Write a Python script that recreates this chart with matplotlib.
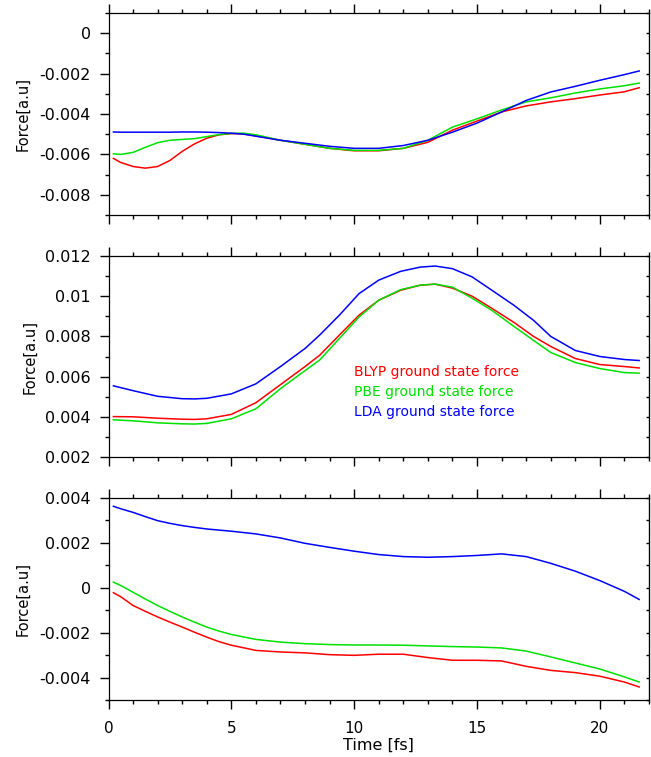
import numpy as np
import matplotlib.pyplot as plt
from matplotlib.ticker import MultipleLocator, FuncFormatter

plt.rcParams['font.family'] = ['DejaVu Sans']

# Ground state force on the atom, three functionals

# x component
time_x = [0.2, 0.5, 1, 1.5, 2, 2.5, 3, 3.5, 4, 4.5, 5, 5.5, 6, 7, 8, 9, 10, 11, 12,
          13, 14, 15, 16, 17, 18, 19, 20, 21, 21.6]
fx_blyp = [-0.0062, -0.0064, -0.0066, -0.00668, -0.0066, -0.0063, -0.00585, -0.00548,
           -0.0052, -0.00503, -0.00497, -0.00498, -0.00508, -0.0053, -0.0055, -0.0057,
           -0.00582, -0.00582, -0.0057, -0.0054, -0.0048, -0.00435, -0.0039, -0.0036,
           -0.0034, -0.00324, -0.00306, -0.0029, -0.0027]
fx_pbe = [-0.00597, -0.006, -0.0059, -0.00565, -0.00542, -0.0053, -0.00526, -0.00522,
          -0.00512, -0.00502, -0.00496, -0.00495, -0.00503, -0.0053, -0.0055, -0.0057,
          -0.0058, -0.0058, -0.0057, -0.0053, -0.00465, -0.00424, -0.0038, -0.0034,
          -0.0032, -0.00296, -0.00276, -0.0026, -0.00247]
fx_lda = [-0.00489, -0.0049, -0.0049, -0.0049, -0.0049, -0.0049, -0.00489, -0.00489,
          -0.0049, -0.00492, -0.00495, -0.005, -0.0051, -0.0053, -0.00545, -0.0056,
          -0.0057, -0.0057, -0.00556, -0.0053, -0.0049, -0.00445, -0.0039, -0.00333,
          -0.00291, -0.00263, -0.00233, -0.00205, -0.00187]

# y component
time_y = [0.2, 1, 2, 3, 3.5, 4, 5, 6, 7, 8, 8.6, 9.4, 10.2, 11, 11.9, 12.7, 13.3,
          14, 14.8, 15.6, 16.5, 17.3, 18, 19, 20, 21, 21.6]
fy_blyp = [0.00401, 0.004, 0.00393, 0.00388, 0.00387, 0.0039, 0.00412, 0.0047, 0.0056,
           0.0065, 0.00707, 0.00807, 0.00906, 0.0098, 0.0103, 0.01055, 0.0106,
           0.0104, 0.0100, 0.0094, 0.0087, 0.0080, 0.0075, 0.0069, 0.0066, 0.0065, 0.00643]
fy_pbe = [0.00385, 0.0038, 0.0037, 0.00365, 0.00364, 0.00367, 0.0039, 0.0044, 0.0054,
          0.0063, 0.00683, 0.0079, 0.00897, 0.0098, 0.01033, 0.01055, 0.0106,
          0.01045, 0.0099, 0.0093, 0.0085, 0.0078, 0.0072, 0.0067, 0.0064, 0.0062, 0.00617]
fy_lda = [0.00554, 0.0053, 0.00502, 0.0049, 0.00489, 0.00492, 0.00514, 0.00564, 0.0065,
          0.0074, 0.00807, 0.00906, 0.01013, 0.0108, 0.01124, 0.01145, 0.0115,
          0.01137, 0.01096, 0.0103, 0.00955, 0.0088, 0.0080, 0.0073, 0.0070, 0.00685, 0.0068]

# z component
time_z = [0.2, 0.5, 1, 1.5, 2, 2.5, 3, 3.5, 4, 4.5, 5, 6, 7, 8, 9, 10, 11, 12,
          13, 14, 15, 16, 17, 18, 19, 20, 21, 21.6]
fz_blyp = [-0.00022, -0.0004, -0.00079, -0.00105, -0.0013, -0.00153, -0.00175, -0.00198,
           -0.0022, -0.0024, -0.00256, -0.00279, -0.00286, -0.0029, -0.00298, -0.00301,
           -0.00296, -0.00296, -0.00311, -0.00323, -0.00323, -0.00326, -0.0035, -0.00368,
           -0.00378, -0.00394, -0.0042, -0.00442]
fz_pbe = [0.00025, 0.0001, -0.0002, -0.0005, -0.00079, -0.00105, -0.0013, -0.00153,
          -0.00175, -0.00193, -0.00208, -0.0023, -0.00242, -0.00249, -0.00253, -0.00255,
          -0.00255, -0.00256, -0.00259, -0.00262, -0.00264, -0.00268, -0.00282, -0.00308,
          -0.00335, -0.00362, -0.00397, -0.0042]
fz_lda = [0.00363, 0.00352, 0.00336, 0.00317, 0.00299, 0.00287, 0.00277, 0.00269,
          0.00262, 0.00257, 0.00252, 0.0024, 0.00222, 0.00198, 0.0018, 0.00163,
          0.00148, 0.00139, 0.00136, 0.00139, 0.00144, 0.00151, 0.00139, 0.00109,
          0.00074, 0.00032, -0.00016, -0.00052]

labels = ['BLYP ground state force', 'PBE ground state force', 'LDA ground state force']
colors = ['#ff0000', '#00e000', '#0000ff']

panels = [
    (time_x, (fx_blyp, fx_pbe, fx_lda), (-0.009, 0.001)),
    (time_y, (fy_blyp, fy_pbe, fy_lda), (0.002, 0.012)),
    (time_z, (fz_blyp, fz_pbe, fz_lda), (-0.005, 0.004)),
]


def fmt(v, pos):
    if abs(v) < 1e-12:
        return '0'
    return '%g' % round(v, 6)


fig = plt.figure(figsize=(6.51, 7.57), dpi=100)
W, H = 651, 757
left, right = 108.5, 649
tops = [13, 256, 498]
bottoms = [215, 457, 700]

axes = []
for i, ((t, series, ylim), top, bot) in enumerate(zip(panels, tops, bottoms)):
    ax = fig.add_axes([left / W, 1 - bot / H, (right - left) / W, (bot - top) / H])
    for s, c, lab in zip(series, colors, labels):
        ax.plot(t, s, color=c, lw=1.1, label=lab)
    ax.set_xlim(0, 22)
    ax.set_ylim(*ylim)
    ax.xaxis.set_major_locator(MultipleLocator(5))
    ax.xaxis.set_minor_locator(MultipleLocator(1))
    ax.yaxis.set_major_locator(MultipleLocator(0.002))
    ax.yaxis.set_minor_locator(MultipleLocator(0.001))
    ax.yaxis.set_major_formatter(FuncFormatter(fmt))
    ax.tick_params(which='both', direction='out', top=True, right=False, width=1)
    ax.tick_params(which='major', length=6.2)
    ax.tick_params(which='minor', length=2.8)
    ax.tick_params(axis='y', labelsize=11.5, pad=6.5)
    ax.tick_params(axis='x', labelsize=11, pad=9)
    # short inward ticks on the right spine
    sec = ax.secondary_yaxis('right')
    sec.yaxis.set_major_locator(MultipleLocator(0.001))
    sec.tick_params(direction='in', length=2.5, width=1, labelright=False)
    sec.tick_params(which='minor', length=0)
    for sp in ax.spines.values():
        sp.set_linewidth(0.9)
    ax.set_ylabel('Force[a.u]', fontsize=10.5)
    ax.yaxis.set_label_coords(-0.132 if i == 1 else -0.145, 0.5)
    if i < 2:
        ax.tick_params(axis='x', labelbottom=False)
    axes.append(ax)

axes[2].set_xlabel('Time [fs]', fontsize=11.5, labelpad=1)

# labels for the three curves inside the middle panel
for lab, c, yv in zip(labels, colors, [0.00623, 0.00524, 0.00425]):
    axes[1].text(10.0, yv, lab, color=c, fontsize=10, va='center', ha='left')

plt.savefig('out.png', dpi=100)
